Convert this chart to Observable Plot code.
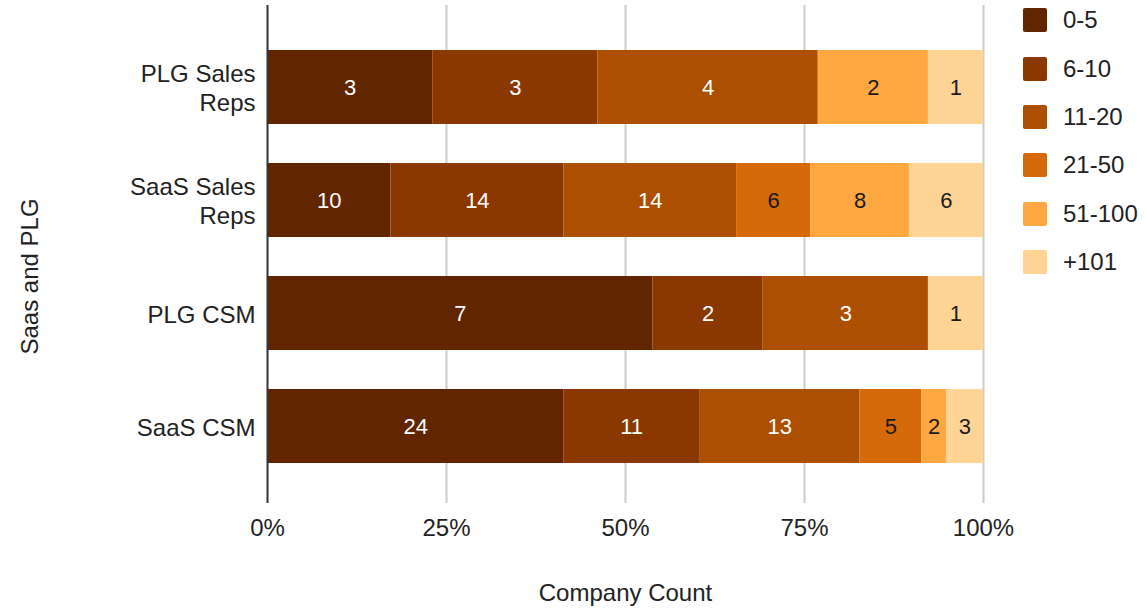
<!DOCTYPE html>
<html>
<head>
<meta charset="utf-8">
<script src="https://cdn.jsdelivr.net/npm/d3@7"></script>
<script src="https://cdn.jsdelivr.net/npm/@observablehq/plot@0.6"></script>
<style>
  html, body { margin: 0; padding: 0; background: #fff; }
  #wrap { position: relative; width: 1145px; height: 608px; font-family: "Liberation Sans", Arial, sans-serif; }
  #legend { position: absolute; left: 1023px; top: -4px; }
  .item { display: flex; align-items: center; height: 48.4px; font-size: 24px; color: #222; }
  .sw { width: 24px; height: 24px; border-radius: 2px; margin-right: 16px; }
</style>
</head>
<body>
<div id="wrap"></div>
<script>
const groups = ["PLG Sales Reps", "SaaS Sales Reps", "PLG CSM", "SaaS CSM"];
const groupLabels = ["PLG Sales\nReps", "SaaS Sales\nReps", "PLG CSM", "SaaS CSM"];
const buckets = ["0-5", "6-10", "11-20", "21-50", "51-100", "+101"];
const colors = ["#612500", "#8a3800", "#ad4f00", "#d66a0a", "#ffa842", "#ffd494"];
const darkText = ["21-50", "51-100", "+101"];
const plgSalesReps = [3, 3, 4, 0, 2, 1];
const saasSalesReps = [10, 14, 14, 6, 8, 6];
const plgCSM = [7, 2, 3, 0, 0, 1];
const saasCSM = [24, 11, 13, 5, 2, 3];
const xTicks = [0, 0.25, 0.5, 0.75, 1];
const gridTicks = [0.25, 0.5, 0.75, 1];
const xLabel = "Company Count";
const yLabel = "Saas and PLG";

const series = [plgSalesReps, saasSalesReps, plgCSM, saasCSM];
const data = [];
groups.forEach((g, i) => buckets.forEach((b, j) => data.push({group: g, bucket: b, count: series[i][j]})));
const labelOf = new Map(groups.map((g, i) => [g, groupLabels[i]]));

const stackOpts = {offset: "normalize", x: "count", y: "group", z: "bucket", order: buckets};

const chart = Plot.plot({
  width: 1145,
  height: 608,
  marginLeft: 267,
  marginRight: 162,
  marginTop: 5,
  marginBottom: 105,
  style: {fontFamily: "'Liberation Sans', Arial, sans-serif", fontSize: "24px", color: "#222", background: "#fff"},
  x: {domain: [0, 1]},
  y: {domain: groups, range: [9, 503], paddingInner: 0.347, paddingOuter: 0.353},
  color: {domain: buckets, range: colors},
  marks: [
    Plot.ruleX(gridTicks, {stroke: "#cccccc", strokeWidth: 2}),
    Plot.barX(data, Plot.stackX({...stackOpts, fill: "bucket"})),
    Plot.textX(data, Plot.stackX({...stackOpts, fill: "white", fontSize: 22,
      text: d => (d.count > 0 && !darkText.includes(d.bucket)) ? String(d.count) : ""})),
    Plot.textX(data, Plot.stackX({...stackOpts, fill: "#1a1a1a", fontSize: 22,
      text: d => (d.count > 0 && darkText.includes(d.bucket)) ? String(d.count) : ""})),
    Plot.ruleX([0], {stroke: "#333", strokeWidth: 2}),
    Plot.axisX(xTicks, {tickSize: 0, tickPadding: 15, tickFormat: d3.format(".0%"),
      label: xLabel, labelAnchor: "center", labelOffset: 97, labelArrow: "none"}),
    Plot.axisY({tickSize: 0, tickPadding: 12, lineHeight: 1.2, tickFormat: d => labelOf.get(d), label: null}),
    Plot.text([yLabel], {frameAnchor: "left", textAnchor: "middle", lineAnchor: "middle", rotate: -90,
      dx: -237, dy: 22, fill: "#222", fontSize: 24})
  ]
});

const wrap = document.getElementById("wrap");
wrap.appendChild(chart);
const legend = document.createElement("div");
legend.id = "legend";
buckets.forEach((b, i) => {
  const it = document.createElement("div");
  it.className = "item";
  it.innerHTML = `<div class="sw" style="background:${colors[i]}"></div><span>${b}</span>`;
  legend.appendChild(it);
});
wrap.appendChild(legend);
</script>
</body>
</html>
